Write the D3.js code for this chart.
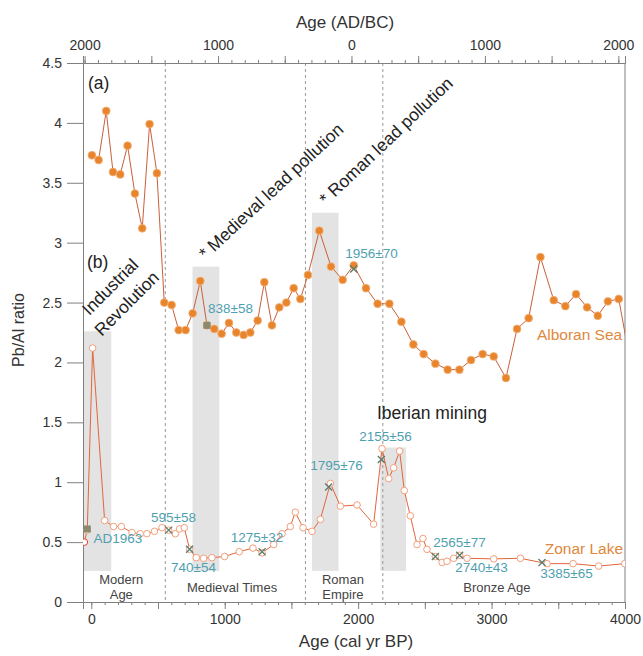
<!DOCTYPE html>
<html>
<head>
<meta charset="utf-8">
<script src="https://cdnjs.cloudflare.com/ajax/libs/d3/7.8.5/d3.min.js"></script>
<style>
body { margin: 0; background: #fff; }
svg { font-family: "Liberation Sans", Arial, sans-serif; }
</style>
</head>
<body>
<div class="chart"></div>
<script>
'use strict';

// (a) Alboran Sea, cal yr BP vs Pb/Al
const alboranAge = [5, 55, 112, 163, 217, 272, 327, 382, 437, 492, 547, 602, 655, 707, 760, 817, 867, 922, 977,
  1032, 1087, 1142, 1192, 1247, 1297, 1354, 1409, 1462, 1517, 1567, 1624, 1709, 1797, 1884, 1967, 2059, 2146,
  2234, 2324, 2414, 2491, 2579, 2671, 2759, 2846, 2933, 3016, 3108, 3191, 3278, 3366, 3466, 3553, 3633, 3716,
  3796, 3872, 3953, 4040];
const alboranRatio = [3.73, 3.69, 4.10, 3.59, 3.57, 3.81, 3.41, 3.12, 3.99, 3.58, 2.50, 2.48, 2.27, 2.27, 2.41,
  2.68, 2.31, 2.28, 2.24, 2.33, 2.25, 2.23, 2.25, 2.35, 2.67, 2.31, 2.46, 2.50, 2.62, 2.53, 2.73, 3.10, 2.80,
  2.69, 2.81, 2.62, 2.49, 2.49, 2.34, 2.15, 2.07, 1.99, 1.94, 1.94, 2.02, 2.07, 2.05, 1.87, 2.28, 2.37, 2.88,
  2.52, 2.47, 2.57, 2.46, 2.39, 2.51, 2.53, 2.00];

// (b) Zonar Lake
const zonarAge = [-52, -30, 10, 100, 167, 225, 305, 367, 417, 474, 530, 580, 630, 662, 697, 737, 787, 842, 904,
  999, 1109, 1212, 1280, 1367, 1430, 1492, 1529, 1587, 1654, 1717, 1792, 1867, 1992, 2116, 2179, 2229, 2266,
  2311, 2346, 2391, 2441, 2486, 2516, 2579, 2629, 2666, 2716, 2761, 2816, 3016, 3216, 3416, 3611, 3803, 3998];
const zonarRatio = [0.50, 0.60, 2.12, 0.68, 0.63, 0.63, 0.58, 0.57, 0.57, 0.59, 0.62, 0.60, 0.57, 0.61, 0.62,
  0.44, 0.37, 0.365, 0.37, 0.38, 0.42, 0.45, 0.41, 0.48, 0.57, 0.63, 0.75, 0.62, 0.59, 0.69, 0.99, 0.80, 0.81,
  0.65, 1.28, 1.03, 1.12, 1.26, 0.93, 0.72, 0.48, 0.53, 0.44, 0.38, 0.33, 0.34, 0.365, 0.39, 0.365, 0.36,
  0.365, 0.32, 0.32, 0.30, 0.32];

// dated levels
const datedText = ['AD1963', '595±58', '740±54', '838±58', '1275±32', '1795±76', '1956±70', '2155±56',
  '2565±77', '2740±43', '3385±65'];
const datedAge = [-30, 580, 737, 867, 1280, 1779, 1967, 2174, 2579, 2761, 3378];
const datedRatio = [0.61, 0.60, 0.44, 2.31, 0.42, 0.96, 2.78, 1.19, 0.38, 0.39, 0.33];
const datedKind = ['square', 'cross', 'cross', 'square', 'cross', 'cross', 'cross', 'cross', 'cross', 'cross', 'cross'];
const datedLabelAge = [200, 616, 766, 1043, 1242, 1838, 2100, 2205, 2760, 2924, 3561];
const datedLabelRatio = [0.534, 0.71, 0.29, 2.45, 0.54, 1.14, 2.91, 1.38, 0.50, 0.29, 0.24];

// periods and shaded intervals
const periodNames = [['Modern', 'Age'], ['Medieval Times'], ['Roman', 'Empire'], ['Bronze Age']];
const periodAge = [225, 1055, 1886, 3040];
const boundaryAge = [555, 1605, 2185];
const bandStart = [-62, 759, 1654, 2166];
const bandEnd = [150, 960, 1853, 2359];
const bandTop = [2.26, 2.80, 3.25, 1.29];
const bandBottom = 0.26;

// ticks
const yTicks = [0, 0.5, 1, 1.5, 2, 2.5, 3, 3.5, 4, 4.5];
const bpMajor = d3.range(0, 4001, 500);
const bpMinor = d3.range(0, 4001, 100);
const adMajor = d3.range(2000, -2001, -500);
const adMinor = d3.range(2000, -2001, -100);

const margin = {top: 63, right: 18, bottom: 54, left: 83};
const width = 643 - margin.left - margin.right;
const height = 656 - margin.top - margin.bottom;

const x = d3.scaleLinear().domain([-62, 4000]).range([0, width]);
const y = d3.scaleLinear().domain([0, 4.5]).range([height, 0]);
const bp = ad => 1950 - ad;

const svg = d3.select('.chart').append('svg')
  .attr('width', 643)
  .attr('height', 656);

svg.append('rect').attr('width', 643).attr('height', 656).attr('fill', '#fff');

const g = svg.append('g')
  .attr('transform', `translate(${margin.left},${margin.top})`);

g.append('clipPath').attr('id', 'plot')
  .append('rect').attr('width', width).attr('height', height);

// grey bands
g.append('g').selectAll('rect')
  .data(bandStart)
  .join('rect')
  .attr('x', (d, i) => x(Math.max(d, -62)))
  .attr('width', (d, i) => x(bandEnd[i]) - x(Math.max(d, -62)))
  .attr('y', (d, i) => y(bandTop[i]))
  .attr('height', (d, i) => y(bandBottom) - y(bandTop[i]))
  .attr('fill', '#e3e3e3');

// period boundaries
g.append('g').selectAll('line')
  .data(boundaryAge)
  .join('line')
  .attr('x1', d => x(d)).attr('x2', d => x(d))
  .attr('y1', 0).attr('y2', height)
  .attr('stroke', '#9a9a9a')
  .attr('stroke-dasharray', '3,3');

function styleAxis(sel) {
  sel.selectAll('.domain').attr('stroke', '#808080');
  sel.selectAll('.tick line').attr('stroke', '#808080');
  sel.selectAll('.tick text').attr('fill', '#333').attr('font-size', 14);
}

// axes
const yAxis = g.append('g')
  .call(d3.axisLeft(y).tickValues(yTicks).tickFormat(d => d).tickSize(16).tickPadding(5));
styleAxis(yAxis);

const xAxis = g.append('g').attr('transform', `translate(0,${height})`)
  .call(d3.axisBottom(x).tickValues(bpMajor).tickSize(7).tickPadding(5)
    .tickFormat(d => d % 1000 === 0 ? d : ''));
styleAxis(xAxis);
const xMinor = g.append('g').attr('transform', `translate(0,${height})`)
  .call(d3.axisBottom(x).tickValues(bpMinor).tickSize(3).tickFormat(''));
xMinor.select('.domain').remove();
styleAxis(xMinor);

const topAxis = g.append('g')
  .call(d3.axisTop(x).tickValues(adMajor.map(bp)).tickSize(7).tickPadding(6)
    .tickFormat(d => (1950 - d) % 1000 === 0 ? Math.abs(1950 - d) : ''));
styleAxis(topAxis);
const topMinor = g.append('g')
  .call(d3.axisTop(x).tickValues(adMinor.map(bp)).tickSize(3).tickFormat(''));
topMinor.select('.domain').remove();
styleAxis(topMinor);

g.append('line')
  .attr('x1', width).attr('x2', width)
  .attr('y1', 0).attr('y2', height)
  .attr('stroke', '#808080');

// axis titles
svg.append('text')
  .attr('x', 345).attr('y', 22).attr('dy', '0.35em')
  .attr('text-anchor', 'middle').attr('font-size', 17).attr('fill', '#333')
  .text('Age (AD/BC)');
svg.append('text')
  .attr('x', 356).attr('y', 641).attr('dy', '0.35em')
  .attr('text-anchor', 'middle').attr('font-size', 17).attr('fill', '#333')
  .text('Age (cal yr BP)');
svg.append('text')
  .attr('transform', 'translate(18,330) rotate(-90)')
  .attr('dy', '0.35em')
  .attr('text-anchor', 'middle').attr('font-size', 16).attr('fill', '#333')
  .text('Pb/Al ratio');

// period names
const periods = g.append('g').attr('font-size', 13).attr('fill', '#444').attr('text-anchor', 'middle');
periodNames.forEach((lines, i) => {
  const t = periods.append('text')
    .attr('x', x(periodAge[i]))
    .attr('y', y(0.125));
  lines.forEach((s, j) => {
    t.append('tspan')
      .attr('x', x(periodAge[i]))
      .attr('dy', j === 0 ? (lines.length === 1 ? '0.35em' : '-0.2em') : '1.1em')
      .text(s);
  });
});

// series
const alboran = alboranAge.map((a, i) => ({age: a, ratio: alboranRatio[i]}));
const zonar = zonarAge.map((a, i) => ({age: a, ratio: zonarRatio[i]}));
const line = d3.line().x(d => x(d.age)).y(d => y(d.ratio));

const series = g.append('g').attr('clip-path', 'url(#plot)');

series.append('path').datum(alboran)
  .attr('d', line).attr('fill', 'none')
  .attr('stroke', '#c9603a').attr('stroke-width', 1);
series.append('g').selectAll('circle')
  .data(alboran)
  .join('circle')
  .attr('cx', d => x(d.age)).attr('cy', d => y(d.ratio))
  .attr('r', 3.9)
  .attr('fill', '#e8842c')
  .attr('stroke', '#f3b27a').attr('stroke-width', 0.8);

series.append('path').datum(zonar)
  .attr('d', line).attr('fill', 'none')
  .attr('stroke', '#e0663c').attr('stroke-width', 1);
series.append('g').selectAll('circle')
  .data(zonar)
  .join('circle')
  .attr('cx', d => x(d.age)).attr('cy', d => y(d.ratio))
  .attr('r', 3.3)
  .attr('fill', '#fff')
  .attr('stroke', (d, i) => i === 0 ? '#e0402a' : '#f2a07c').attr('stroke-width', 1);

// dated levels
const dated = g.append('g');
datedAge.forEach((a, i) => {
  const cx = x(a), cy = y(datedRatio[i]);
  if (datedKind[i] === 'square') {
    dated.append('rect')
      .attr('x', cx - 3.5).attr('y', cy - 3.5)
      .attr('width', 7).attr('height', 7)
      .attr('fill', '#8a8a6e');
  } else {
    dated.append('path')
      .attr('d', `M${cx - 3.5},${cy - 3.5}L${cx + 3.5},${cy + 3.5}M${cx - 3.5},${cy + 3.5}L${cx + 3.5},${cy - 3.5}`)
      .attr('stroke', '#5c7c6c').attr('stroke-width', 1.3);
  }
  dated.append('text')
    .attr('x', x(datedLabelAge[i])).attr('y', y(datedLabelRatio[i]))
    .attr('dy', '0.35em').attr('text-anchor', 'middle')
    .attr('font-size', 13.5).attr('fill', '#4f9fb0')
    .text(datedText[i]);
});

// series names
g.append('text')
  .attr('x', x(3979)).attr('y', y(2.23)).attr('dy', '0.35em')
  .attr('text-anchor', 'end').attr('font-size', 15.5).attr('fill', '#e0883c')
  .text('Alboran Sea');
g.append('text')
  .attr('x', x(3986)).attr('y', y(0.45)).attr('dy', '0.35em')
  .attr('text-anchor', 'end').attr('font-size', 15.5).attr('fill', '#e0883c')
  .text('Zonar Lake');

// panel letters and annotations
const notes = g.append('g').attr('font-size', 17.5).attr('fill', '#222');
notes.append('text').attr('x', x(-25)).attr('y', y(4.33)).attr('dy', '0.35em').text('(a)');
notes.append('text').attr('x', x(-32)).attr('y', y(2.84)).attr('dy', '0.35em').text('(b)');
notes.append('text').attr('x', x(2141)).attr('y', y(1.58)).attr('dy', '0.35em').text('Iberian mining');

const ind = notes.append('text')
  .attr('transform', `translate(${x(205)},${y(2.56)}) rotate(-45)`)
  .attr('text-anchor', 'middle');
ind.append('tspan').attr('x', 0).attr('dy', '-0.35em').text('Industrial');
ind.append('tspan').attr('x', 0).attr('dy', '1.35em').text('Revolution');

notes.append('text')
  .attr('transform', `translate(${x(1347)},${y(3.43)}) rotate(-43)`)
  .attr('text-anchor', 'middle').attr('dy', '0.35em')
  .text('* Medieval lead pollution');
notes.append('text')
  .attr('transform', `translate(${x(2209)},${y(3.85)}) rotate(-43.5)`)
  .attr('text-anchor', 'middle').attr('dy', '0.35em')
  .text('* Roman lead pollution');
</script>
</body>
</html>
